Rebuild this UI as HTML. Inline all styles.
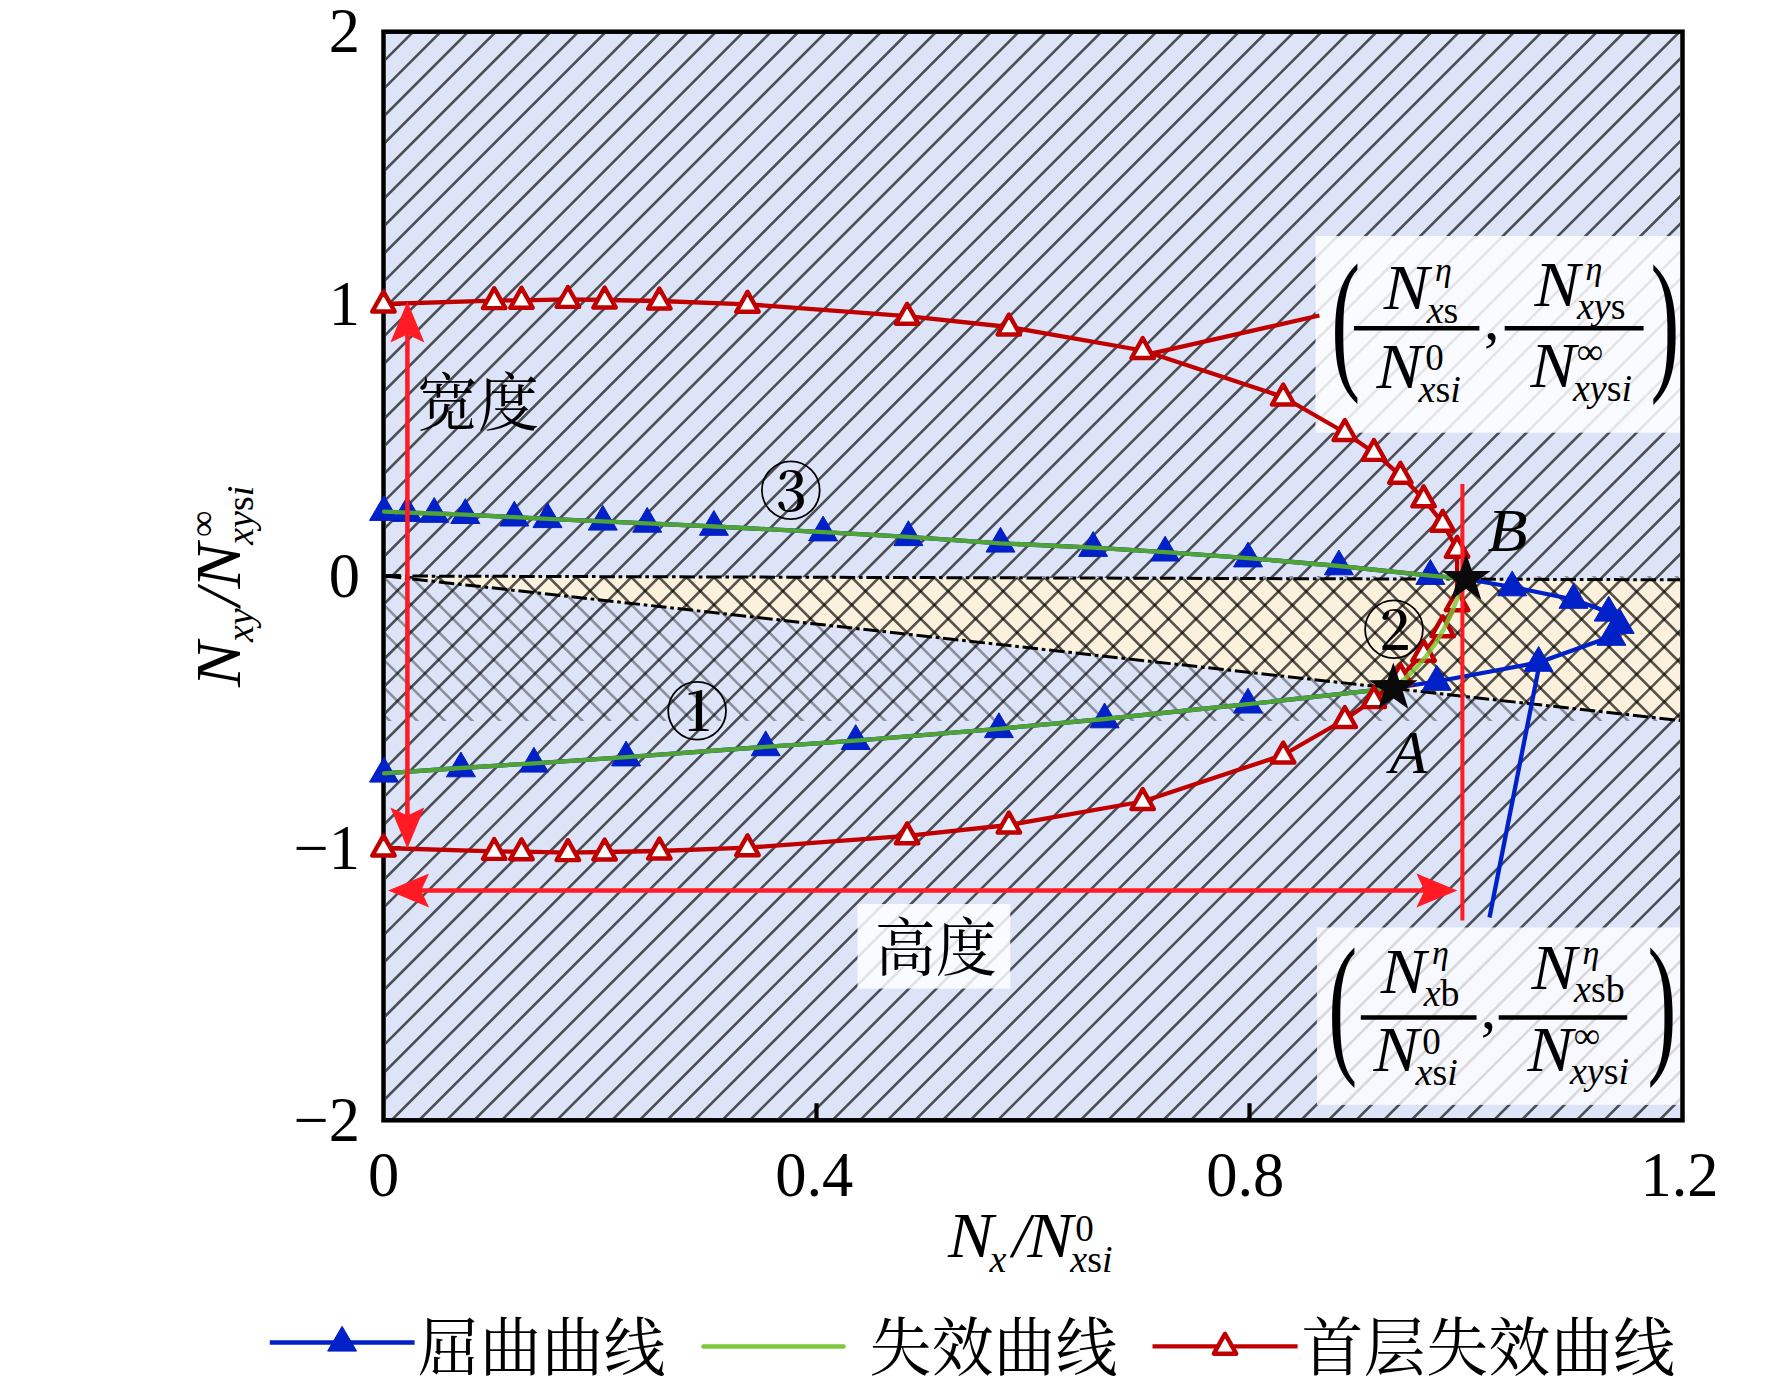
<!DOCTYPE html>
<html lang="zh"><head><meta charset="utf-8"><title>屈曲与失效曲线</title>
<style>
html,body{margin:0;padding:0;background:#fff;}
body{width:1772px;height:1389px;overflow:hidden;}
svg{display:block;}
text{font-family:'Liberation Serif','Noto Serif CJK SC',serif;fill:#000;}
.it{font-style:italic;}
.cjk{font-family:'Liberation Serif','Noto Serif CJK SC',serif;font-weight:400;}
</style></head><body>
<svg width="1772" height="1389" viewBox="0 0 1772 1389">
<rect x="0" y="0" width="1772" height="1389" fill="#ffffff"/>
<defs>
<clipPath id="cpPlot"><rect x="385.75" y="33.95" width="1294.5" height="1084.1"/></clipPath>
<clipPath id="cpWedge"><polygon points="385.75,576 1680.25,581 1680.25,720.5"/></clipPath>
<clipPath id="cpBand"><path d="M385.75 576 H1680.25 V721 H385.75 Z M385.75 576 L1680.25 581 L1680.25 720.5 Z" clip-rule="evenodd"/></clipPath>
<clipPath id="cpTop"><polygon points="385.75,33.95 1680.25,33.95 1680.25,579.8 385.75,576"/></clipPath>
<clipPath id="cpBot"><polygon points="385.75,576 1680.25,579.8 1680.25,1118.05 385.75,1118.05"/></clipPath>
</defs>
<rect x="383.5" y="31.7" width="1299" height="1088.6" fill="#dde4f8"/>
<polygon points="385.75,576 1680.25,581 1680.25,720.5" fill="#fbf1dc"/>
<path d="M185.9 572 L338.9 725M213.42 572 L366.42 725M240.94 572 L393.94 725M268.46 572 L421.46 725M295.98 572 L448.98 725M323.5 572 L476.5 725M351.02 572 L504.02 725M378.54 572 L531.54 725M406.06 572 L559.06 725M433.58 572 L586.58 725M461.1 572 L614.1 725M488.62 572 L641.62 725M516.14 572 L669.14 725M543.66 572 L696.66 725M571.18 572 L724.18 725M598.7 572 L751.7 725M626.22 572 L779.22 725M653.74 572 L806.74 725M681.26 572 L834.26 725M708.78 572 L861.78 725M736.3 572 L889.3 725M763.82 572 L916.82 725M791.34 572 L944.34 725M818.86 572 L971.86 725M846.38 572 L999.38 725M873.9 572 L1026.9 725M901.42 572 L1054.42 725M928.94 572 L1081.94 725M956.46 572 L1109.46 725M983.98 572 L1136.98 725M1011.5 572 L1164.5 725M1039.02 572 L1192.02 725M1066.54 572 L1219.54 725M1094.06 572 L1247.06 725M1121.58 572 L1274.58 725M1149.1 572 L1302.1 725M1176.62 572 L1329.62 725M1204.14 572 L1357.14 725M1231.66 572 L1384.66 725M1259.18 572 L1412.18 725M1286.7 572 L1439.7 725M1314.22 572 L1467.22 725M1341.74 572 L1494.74 725M1369.26 572 L1522.26 725M1396.78 572 L1549.78 725M1424.3 572 L1577.3 725M1451.82 572 L1604.82 725M1479.34 572 L1632.34 725M1506.86 572 L1659.86 725M1534.38 572 L1687.38 725M1561.9 572 L1714.9 725M1589.42 572 L1742.42 725M1616.94 572 L1769.94 725M1644.46 572 L1797.46 725M1671.98 572 L1824.98 725" fill="none" stroke="#000" stroke-opacity="0.37" stroke-width="2.6" clip-path="url(#cpBand)"/>
<path d="M185.9 572 L338.9 725M213.42 572 L366.42 725M240.94 572 L393.94 725M268.46 572 L421.46 725M295.98 572 L448.98 725M323.5 572 L476.5 725M351.02 572 L504.02 725M378.54 572 L531.54 725M406.06 572 L559.06 725M433.58 572 L586.58 725M461.1 572 L614.1 725M488.62 572 L641.62 725M516.14 572 L669.14 725M543.66 572 L696.66 725M571.18 572 L724.18 725M598.7 572 L751.7 725M626.22 572 L779.22 725M653.74 572 L806.74 725M681.26 572 L834.26 725M708.78 572 L861.78 725M736.3 572 L889.3 725M763.82 572 L916.82 725M791.34 572 L944.34 725M818.86 572 L971.86 725M846.38 572 L999.38 725M873.9 572 L1026.9 725M901.42 572 L1054.42 725M928.94 572 L1081.94 725M956.46 572 L1109.46 725M983.98 572 L1136.98 725M1011.5 572 L1164.5 725M1039.02 572 L1192.02 725M1066.54 572 L1219.54 725M1094.06 572 L1247.06 725M1121.58 572 L1274.58 725M1149.1 572 L1302.1 725M1176.62 572 L1329.62 725M1204.14 572 L1357.14 725M1231.66 572 L1384.66 725M1259.18 572 L1412.18 725M1286.7 572 L1439.7 725M1314.22 572 L1467.22 725M1341.74 572 L1494.74 725M1369.26 572 L1522.26 725M1396.78 572 L1549.78 725M1424.3 572 L1577.3 725M1451.82 572 L1604.82 725M1479.34 572 L1632.34 725M1506.86 572 L1659.86 725M1534.38 572 L1687.38 725M1561.9 572 L1714.9 725M1589.42 572 L1742.42 725M1616.94 572 L1769.94 725M1644.46 572 L1797.46 725M1671.98 572 L1824.98 725" fill="none" stroke="#000" stroke-opacity="0.66" stroke-width="2.6" clip-path="url(#cpWedge)"/>
<path d="M359.99 29.95 L-197.06 587M387.52 29.95 L-169.53 587M415.05 29.95 L-142 587M442.58 29.95 L-114.47 587M470.11 29.95 L-86.94 587M497.64 29.95 L-59.41 587M525.17 29.95 L-31.88 587M552.7 29.95 L-4.35 587M580.23 29.95 L23.18 587M607.76 29.95 L50.71 587M635.29 29.95 L78.24 587M662.82 29.95 L105.77 587M690.35 29.95 L133.3 587M717.88 29.95 L160.83 587M745.41 29.95 L188.36 587M772.94 29.95 L215.89 587M800.47 29.95 L243.42 587M828 29.95 L270.95 587M855.53 29.95 L298.48 587M883.06 29.95 L326.01 587M910.59 29.95 L353.54 587M938.12 29.95 L381.07 587M965.65 29.95 L408.6 587M993.18 29.95 L436.13 587M1020.71 29.95 L463.66 587M1048.24 29.95 L491.19 587M1075.77 29.95 L518.72 587M1103.3 29.95 L546.25 587M1130.83 29.95 L573.78 587M1158.36 29.95 L601.31 587M1185.89 29.95 L628.84 587M1213.42 29.95 L656.37 587M1240.95 29.95 L683.9 587M1268.48 29.95 L711.43 587M1296.01 29.95 L738.96 587M1323.54 29.95 L766.49 587M1351.07 29.95 L794.02 587M1378.6 29.95 L821.55 587M1406.13 29.95 L849.08 587M1433.66 29.95 L876.61 587M1461.19 29.95 L904.14 587M1488.72 29.95 L931.67 587M1516.25 29.95 L959.2 587M1543.78 29.95 L986.73 587M1571.31 29.95 L1014.26 587M1598.84 29.95 L1041.79 587M1626.37 29.95 L1069.32 587M1653.9 29.95 L1096.85 587M1681.43 29.95 L1124.38 587M1708.96 29.95 L1151.91 587M1736.49 29.95 L1179.44 587M1764.02 29.95 L1206.97 587M1791.55 29.95 L1234.5 587M1819.08 29.95 L1262.03 587M1846.61 29.95 L1289.56 587M1874.14 29.95 L1317.09 587M1901.67 29.95 L1344.62 587M1929.2 29.95 L1372.15 587M1956.73 29.95 L1399.68 587M1984.26 29.95 L1427.21 587M2011.79 29.95 L1454.74 587M2039.32 29.95 L1482.27 587M2066.85 29.95 L1509.8 587M2094.38 29.95 L1537.33 587M2121.91 29.95 L1564.86 587M2149.44 29.95 L1592.39 587M2176.97 29.95 L1619.92 587M2204.5 29.95 L1647.45 587M2232.03 29.95 L1674.98 587" fill="none" stroke="#000" stroke-opacity="0.66" stroke-width="2.6" clip-path="url(#cpTop)"/>
<path d="M335.38 570 L-216.67 1122.05M362.94 570 L-189.11 1122.05M390.5 570 L-161.55 1122.05M418.06 570 L-133.99 1122.05M445.62 570 L-106.43 1122.05M473.18 570 L-78.87 1122.05M500.74 570 L-51.31 1122.05M528.3 570 L-23.75 1122.05M555.86 570 L3.81 1122.05M583.42 570 L31.37 1122.05M610.98 570 L58.93 1122.05M638.54 570 L86.49 1122.05M666.1 570 L114.05 1122.05M693.66 570 L141.61 1122.05M721.22 570 L169.17 1122.05M748.78 570 L196.73 1122.05M776.34 570 L224.29 1122.05M803.9 570 L251.85 1122.05M831.46 570 L279.41 1122.05M859.02 570 L306.97 1122.05M886.58 570 L334.53 1122.05M914.14 570 L362.09 1122.05M941.7 570 L389.65 1122.05M969.26 570 L417.21 1122.05M996.82 570 L444.77 1122.05M1024.38 570 L472.33 1122.05M1051.94 570 L499.89 1122.05M1079.5 570 L527.45 1122.05M1107.06 570 L555.01 1122.05M1134.62 570 L582.57 1122.05M1162.18 570 L610.13 1122.05M1189.74 570 L637.69 1122.05M1217.3 570 L665.25 1122.05M1244.86 570 L692.81 1122.05M1272.42 570 L720.37 1122.05M1299.98 570 L747.93 1122.05M1327.54 570 L775.49 1122.05M1355.1 570 L803.05 1122.05M1382.66 570 L830.61 1122.05M1410.22 570 L858.17 1122.05M1437.78 570 L885.73 1122.05M1465.34 570 L913.29 1122.05M1492.9 570 L940.85 1122.05M1520.46 570 L968.41 1122.05M1548.02 570 L995.97 1122.05M1575.58 570 L1023.53 1122.05M1603.14 570 L1051.09 1122.05M1630.7 570 L1078.65 1122.05M1658.26 570 L1106.21 1122.05M1685.82 570 L1133.77 1122.05M1713.38 570 L1161.33 1122.05M1740.94 570 L1188.89 1122.05M1768.5 570 L1216.45 1122.05M1796.06 570 L1244.01 1122.05M1823.62 570 L1271.57 1122.05M1851.18 570 L1299.13 1122.05M1878.74 570 L1326.69 1122.05M1906.3 570 L1354.25 1122.05M1933.86 570 L1381.81 1122.05M1961.42 570 L1409.37 1122.05M1988.98 570 L1436.93 1122.05M2016.54 570 L1464.49 1122.05M2044.1 570 L1492.05 1122.05M2071.66 570 L1519.61 1122.05M2099.22 570 L1547.17 1122.05M2126.78 570 L1574.73 1122.05M2154.34 570 L1602.29 1122.05M2181.9 570 L1629.85 1122.05M2209.46 570 L1657.41 1122.05" fill="none" stroke="#000" stroke-opacity="0.66" stroke-width="2.6" clip-path="url(#cpBot)"/>
<g fill="none" stroke="#000" stroke-width="3.0" stroke-dasharray="15.5 3.8 3.6 3.8">
<path d="M385.75 576 L1680.25 579.8"/>
<path d="M385.75 576 L1680.25 720.5"/>
</g>
<g fill="#ffffff">
<rect x="1315.5" y="236" width="364.75" height="196.7" fill-opacity="0.85"/>
<rect x="1316.9" y="927.5" width="363.35" height="177.4" fill-opacity="0.79"/>
<rect x="857.5" y="904" width="152.8" height="84.6" fill-opacity="0.84"/>
</g>
<rect x="383.5" y="31.7" width="1299" height="1088.6" fill="none" stroke="#000" stroke-width="4.5"/>
<path d="M816.5 1120.3 V1103.3M1249.5 1120.3 V1103.3M383.5 304 H400.5M383.5 576 H400.5M383.5 848 H400.5" fill="none" stroke="#000" stroke-width="4.2"/>
<path d="M1151 353.6 L1319.4 315.5" fill="none" stroke="#c00000" stroke-width="4.3"/>
<path d="M1539.5 664 L1489.5 917.5" fill="none" stroke="#0020c8" stroke-width="4.3"/>
<polyline points="384,511.6 407.2,512.6 434.2,513.5 465.3,514.7 514.3,517.2 547.5,518.8 602.8,521.3 647.2,523.4 713.9,526.5 823.1,532.1 908.4,536.8 1000.5,543.3 1093.1,547.6 1165.1,552.2 1248,558.1 1338.9,566 1430.4,575.6 1466.2,579 1512.2,587 1573.5,599.5 1608.7,612.3 1619.7,624.6 1611.4,636.5 1538.6,662.5 1436.8,681.5 1393.3,688.2 1248,704.2 1104.6,719 998.9,728.8 855.7,740.7 765.7,746.9 626.1,757.1 533.9,763.3 460.9,768 384,773.3" fill="none" stroke="#0020c8" stroke-width="4.3" stroke-linejoin="round"/>
<path d="M384 495.6L369.5 520.4L398.5 520.4ZM407.2 496.6L392.7 521.4L421.7 521.4ZM434.2 497.5L419.7 522.3L448.7 522.3ZM465.3 498.7L450.8 523.5L479.8 523.5ZM514.3 501.2L499.8 526L528.8 526ZM547.5 502.8L533 527.6L562 527.6ZM602.8 505.3L588.3 530.1L617.3 530.1ZM647.2 507.4L632.7 532.2L661.7 532.2ZM713.9 510.5L699.4 535.3L728.4 535.3ZM823.1 516.1L808.6 540.9L837.6 540.9ZM908.4 520.8L893.9 545.6L922.9 545.6ZM1000.5 527.3L986 552.1L1015 552.1ZM1093.1 531.6L1078.6 556.4L1107.6 556.4ZM1165.1 536.2L1150.6 561L1179.6 561ZM1248 542.1L1233.5 566.9L1262.5 566.9ZM1338.9 550L1324.4 574.8L1353.4 574.8ZM1430.4 559.6L1415.9 584.4L1444.9 584.4ZM1512.2 571L1497.7 595.8L1526.7 595.8ZM1573.5 583.5L1559 608.3L1588 608.3ZM1608.7 596.3L1594.2 621.1L1623.2 621.1ZM1619.7 608.6L1605.2 633.4L1634.2 633.4ZM1611.4 620.5L1596.9 645.3L1625.9 645.3ZM1538.6 646.5L1524.1 671.3L1553.1 671.3ZM1436.8 665.5L1422.3 690.3L1451.3 690.3ZM1248 688.2L1233.5 713L1262.5 713ZM1104.6 703L1090.1 727.8L1119.1 727.8ZM998.9 712.8L984.4 737.6L1013.4 737.6ZM855.7 724.7L841.2 749.5L870.2 749.5ZM765.7 730.9L751.2 755.7L780.2 755.7ZM626.1 741.1L611.6 765.9L640.6 765.9ZM533.9 747.3L519.4 772.1L548.4 772.1ZM460.9 752L446.4 776.8L475.4 776.8ZM384 757.3L369.5 782.1L398.5 782.1Z" fill="#0020c8" stroke="#0020c8" stroke-width="1" stroke-linejoin="round"/>
<polyline points="384,511.6 407.2,512.6 434.2,513.5 465.3,514.7 514.3,517.2 547.5,518.8 602.8,521.3 647.2,523.4 713.9,526.5 823.1,532.1 908.4,536.8 1000.5,543.3 1093.1,547.6 1165.1,552.2 1248,558.1 1338.9,566 1430.4,575.6 1466.2,579" fill="none" stroke="#4fa433" stroke-width="4.3" stroke-linejoin="round" stroke-linecap="round"/>
<polyline points="1393.3,688.2 1248,704.2 1104.6,719 998.9,728.8 855.7,740.7 765.7,746.9 626.1,757.1 533.9,763.3 460.9,768 384,773.3" fill="none" stroke="#4fa433" stroke-width="4.3" stroke-linejoin="round" stroke-linecap="round"/>
<polyline points="383.5,304 494.2,300.6 521.5,300.3 567.9,299.4 604.6,300 659.4,301 747.5,304.3 907.1,316.2 1008.9,327 1142.7,350.5 1283.2,397 1344.8,432.5 1373.9,452.4 1400.4,475.3 1423.6,498.8 1442.7,523.3 1457.1,549.3 1457.1,602.7 1442.7,628.7 1423.6,653.2 1400.4,676.7 1373.9,699.6 1344.8,719.5 1283.2,755 1142.7,801.5 1008.9,825 907.1,835.8 747.5,847.7 659.4,851 604.6,852 567.9,852.6 521.5,851.7 494.2,851.4 383.5,848" fill="none" stroke="#c00000" stroke-width="4.3" stroke-linejoin="round"/>
<path d="M383.5 291.6L372.3 311.5L394.7 311.5ZM494.2 288.2L483 308.1L505.4 308.1ZM521.5 287.9L510.3 307.8L532.7 307.8ZM567.9 287L556.7 306.9L579.1 306.9ZM604.6 287.6L593.4 307.5L615.8 307.5ZM659.4 288.6L648.2 308.5L670.6 308.5ZM747.5 291.9L736.3 311.8L758.7 311.8ZM907.1 303.8L895.9 323.7L918.3 323.7ZM1008.9 314.6L997.7 334.5L1020.1 334.5ZM1142.7 338.1L1131.5 358L1153.9 358ZM1283.2 384.6L1272 404.5L1294.4 404.5ZM1344.8 420.1L1333.6 440L1356 440ZM1373.9 440L1362.7 459.9L1385.1 459.9ZM1400.4 462.9L1389.2 482.8L1411.6 482.8ZM1423.6 486.4L1412.4 506.3L1434.8 506.3ZM1442.7 510.9L1431.5 530.8L1453.9 530.8ZM1457.1 536.9L1445.9 556.8L1468.3 556.8ZM1457.1 590.3L1445.9 610.2L1468.3 610.2ZM1442.7 616.3L1431.5 636.2L1453.9 636.2ZM1423.6 640.8L1412.4 660.7L1434.8 660.7ZM1400.4 664.3L1389.2 684.2L1411.6 684.2ZM1373.9 687.2L1362.7 707.1L1385.1 707.1ZM1344.8 707.1L1333.6 727L1356 727ZM1283.2 742.6L1272 762.5L1294.4 762.5ZM1142.7 789.1L1131.5 809L1153.9 809ZM1008.9 812.6L997.7 832.5L1020.1 832.5ZM907.1 823.4L895.9 843.3L918.3 843.3ZM747.5 835.3L736.3 855.2L758.7 855.2ZM659.4 838.6L648.2 858.5L670.6 858.5ZM604.6 839.6L593.4 859.5L615.8 859.5ZM567.9 840.2L556.7 860.1L579.1 860.1ZM521.5 839.3L510.3 859.2L532.7 859.2ZM494.2 839L483 858.9L505.4 858.9ZM383.5 835.6L372.3 855.5L394.7 855.5Z" fill="#ffffff" stroke="#c00000" stroke-width="4.4" stroke-linejoin="round"/>
<path d="M1393.3 688.2 C1428 662 1448 630 1464.2 579" fill="none" stroke="#7cc62e" stroke-opacity="0.82" stroke-width="4.6" stroke-linecap="round"/>
<path d="M1462.4 484 V920.5" fill="none" stroke="#ff1a24" stroke-width="4"/>
<path d="M407.4 331.6 V818.5" fill="none" stroke="#ff1a24" stroke-width="4.5"/>
<polygon points="407.4,301.6 424.4,342.6 407.4,334.6 390.4,342.6" fill="#ff1a24"/>
<polygon points="407.4,848.5 390.4,807.5 407.4,815.5 424.4,807.5" fill="#ff1a24"/>
<path d="M418.1 890.4 H1427.4" fill="none" stroke="#ff1a24" stroke-width="4.5"/>
<polygon points="388.1,890.4 429.1,873.4 421.1,890.4 429.1,907.4" fill="#ff1a24"/>
<polygon points="1457.4,890.4 1416.4,907.4 1424.4,890.4 1416.4,873.4" fill="#ff1a24"/>
<polygon points="1466.2,553.4 1472.08,570.91 1490.55,571.09 1475.71,582.09 1481.25,599.71 1466.2,589 1451.15,599.71 1456.69,582.09 1441.85,571.09 1460.32,570.91" fill="#0a0a0a"/>
<polygon points="1393.3,662.6 1399.18,680.11 1417.65,680.29 1402.81,691.29 1408.35,708.91 1393.3,698.2 1378.25,708.91 1383.79,691.29 1368.95,680.29 1387.42,680.11" fill="#0a0a0a"/>
<g font-size="62.5">
<text x="360" y="52.3" text-anchor="end">2</text>
<text x="360" y="324.6" text-anchor="end">1</text>
<text x="360" y="596.6" text-anchor="end">0</text>
<text x="360" y="868.6" text-anchor="end">−1</text>
<text x="360" y="1140.9" text-anchor="end">−2</text>
<text x="383.5" y="1196.4" text-anchor="middle">0</text>
<text x="814.2" y="1196.4" text-anchor="middle">0.4</text>
<text x="1245.3" y="1196.4" text-anchor="middle">0.8</text>
<text x="1679.5" y="1196.4" text-anchor="middle">1.2</text>
</g>
<g>
<text transform="translate(948.1 1257.4) scale(1.08 1)" font-size="63" class="it">N</text>
<text x="989.6" y="1271.7" font-size="38" class="it">x</text>
<text x="1012.5" y="1257.4" font-size="63" class="it">/</text>
<text transform="translate(1027.6 1257.4) scale(1.08 1)" font-size="63" class="it">N</text>
<text x="1075.3" y="1240.5" font-size="37">0</text>
<text x="1070.3" y="1271.7" font-size="38"><tspan class="it">x</tspan>s<tspan class="it">i</tspan></text>
</g>
<g transform="translate(239.6 686) rotate(-90)">
<text transform="translate(-1.1 0) scale(1.08 1)" font-size="63" class="it">N</text>
<text x="44" y="13.5" font-size="38" class="it">xy</text>
<text x="80.1" y="0" font-size="63" class="it">/</text>
<text transform="translate(97.4 0) scale(1.08 1)" font-size="63" class="it">N</text>
<text x="149" y="-25" font-size="37">∞</text>
<text x="141.2" y="13.5" font-size="38"><tspan class="it">xy</tspan>s<tspan class="it">i</tspan></text>
</g>
<text transform="translate(417 425) scale(1 1.025)" font-size="61" class="cjk">宽度</text>
<text transform="translate(874.8 969.6) scale(1 1.025)" font-size="61" class="cjk">高度</text>
<text transform="translate(1487.5 550.5) scale(1.06 1)" font-size="62" class="it">B</text>
<text transform="translate(1389.5 773) scale(1.0 1)" font-size="62" class="it">A</text>
<circle cx="697.1" cy="710.8" r="28.9" fill="none" stroke="#000" stroke-width="1.8"/>
<text x="697.9" y="731.3" font-size="54.5" font-weight="600" text-anchor="middle" style="font-family:'Noto Serif CJK SC','Liberation Serif',serif">1</text>
<circle cx="1394" cy="629.3" r="28.9" fill="none" stroke="#000" stroke-width="1.8"/>
<text x="1394.8" y="649.8" font-size="54.5" font-weight="600" text-anchor="middle" style="font-family:'Noto Serif CJK SC','Liberation Serif',serif">2</text>
<circle cx="790.8" cy="490.2" r="28.9" fill="none" stroke="#000" stroke-width="1.8"/>
<text x="791.6" y="510.7" font-size="54.5" font-weight="600" text-anchor="middle" style="font-family:'Noto Serif CJK SC','Liberation Serif',serif">3</text>
<g>
<path d="M1354 328.3 H1479.4 M1504.7 328.3 H1643.6" stroke="#000" stroke-width="4.5" fill="none"/>
<text x="1483.9" y="339.2" font-size="62">,</text>
<g transform="translate(0 0)">
<text transform="translate(1331.2 371.1) scale(1 1.77)" font-size="87">(</text>
<text transform="translate(1650.5 371.6) scale(1 1.77)" font-size="87">)</text>
<text transform="translate(1383.8 309.4) scale(1.08 1)" font-size="63" class="it">N</text>
<text x="1434.9" y="280.8" font-size="34" class="it">η</text>
<text x="1426.7" y="322.8" font-size="38"><tspan class="it">x</tspan>s</text>
<text transform="translate(1376.6 387.7) scale(1.08 1)" font-size="63" class="it">N</text>
<text x="1425.3" y="370.4" font-size="37">0</text>
<text x="1418.6" y="401.5" font-size="38"><tspan class="it">x</tspan>s<tspan class="it">i</tspan></text>
<text transform="translate(1534.4 305.7) scale(1.08 1)" font-size="63" class="it">N</text>
<text x="1585.5" y="280" font-size="34" class="it">η</text>
<text x="1577" y="318.9" font-size="38"><tspan class="it">xy</tspan>s</text>
<text transform="translate(1530.4 387.3) scale(1.08 1)" font-size="63" class="it">N</text>
<text x="1576.8" y="364.4" font-size="37">∞</text>
<text x="1572.9" y="400.7" font-size="38"><tspan class="it">xy</tspan>s<tspan class="it">i</tspan></text>
</g>
</g>
<g>
<path d="M1360.8 1017.4 H1476.6 M1498.7 1017.4 H1627.2" stroke="#000" stroke-width="4.5" fill="none"/>
<text x="1480.7" y="1028.3" font-size="62">,</text>
<g transform="translate(-3 683.6)">
<text transform="translate(1331.2 371.1) scale(1 1.77)" font-size="87">(</text>
<text transform="translate(1650.5 371.6) scale(1 1.77)" font-size="87">)</text>
<text transform="translate(1383.8 309.4) scale(1.08 1)" font-size="63" class="it">N</text>
<text x="1434.9" y="280.8" font-size="34" class="it">η</text>
<text x="1426.7" y="322.8" font-size="38"><tspan class="it">x</tspan>b</text>
<text transform="translate(1376.6 387.7) scale(1.08 1)" font-size="63" class="it">N</text>
<text x="1425.3" y="370.4" font-size="37">0</text>
<text x="1418.6" y="401.5" font-size="38"><tspan class="it">x</tspan>s<tspan class="it">i</tspan></text>
<text transform="translate(1534.4 305.7) scale(1.08 1)" font-size="63" class="it">N</text>
<text x="1585.5" y="280" font-size="34" class="it">η</text>
<text x="1577" y="318.9" font-size="38"><tspan class="it">x</tspan>sb</text>
<text transform="translate(1530.4 387.3) scale(1.08 1)" font-size="63" class="it">N</text>
<text x="1576.8" y="364.4" font-size="37">∞</text>
<text x="1572.9" y="400.7" font-size="38"><tspan class="it">xy</tspan>s<tspan class="it">i</tspan></text>
</g>
</g>
<path d="M269.8 1342.5 H414.6" stroke="#0020c8" stroke-width="4.6" fill="none"/>
<path d="M342.1 1326.3L327.6 1351.1L356.6 1351.1Z" fill="#0020c8" stroke="#0020c8" stroke-width="1" stroke-linejoin="round"/>
<text transform="translate(417.8 1369.7) scale(1 1.025)" font-size="61.8" letter-spacing="0.2" class="cjk">屈曲曲线</text>
<path d="M703.5 1346.5 H843.5" stroke="#7dc83c" stroke-width="4.6" stroke-linecap="round" fill="none"/>
<text transform="translate(869.6 1369.7) scale(1 1.025)" font-size="61.8" letter-spacing="0.3" class="cjk">失效曲线</text>
<path d="M1152.5 1346.4 H1297.6" stroke="#c00000" stroke-width="4.3" fill="none"/>
<path d="M1225 1333.8L1213.8 1353.7L1236.2 1353.7Z" fill="#ffffff" stroke="#c00000" stroke-width="4.4" stroke-linejoin="round"/>
<text transform="translate(1301.4 1369.7) scale(1 1.025)" font-size="61.8" letter-spacing="0.6" class="cjk">首层失效曲线</text>
</svg>
</body></html>
